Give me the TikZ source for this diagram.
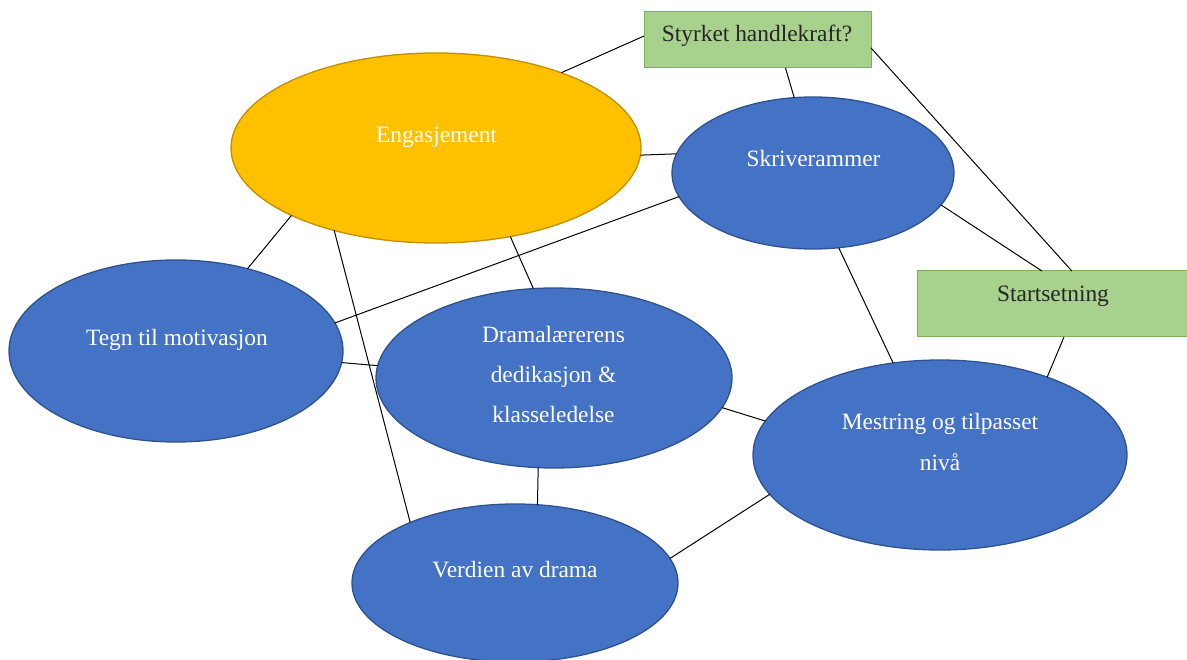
\documentclass[tikz,border=0pt]{standalone}
\usepackage{fontspec}
\setmainfont{Liberation Serif}
\usetikzlibrary{shapes.geometric}
\definecolor{bfill}{HTML}{4472C4}
\definecolor{bline}{HTML}{2F528F}
\definecolor{ofill}{HTML}{FFC000}
\definecolor{oline}{HTML}{BF9000}
\definecolor{gfill}{HTML}{A9D18E}
\definecolor{gline}{HTML}{7FAF5F}
\begin{document}
\begin{tikzpicture}[x=1pt,y=-1pt,
  ell/.style={ellipse, draw=bline, fill=bfill, line width=1.3pt, inner sep=0pt, outer sep=0pt},
  oell/.style={ell, draw=oline, fill=ofill},
  gbox/.style={rectangle, draw=gline, fill=gfill, line width=1pt, inner sep=0pt, outer sep=0pt},
  wtxt/.style={text=white, font=\fontsize{23.4}{40.5}\selectfont, align=center, anchor=base, inner sep=0pt},
  btxt/.style={wtxt, text=black!85},
  conn/.style={draw=black, line width=1pt}]
\useasboundingbox (0,0) rectangle (1187,660);
% shapes
\node[oell, minimum width=410pt, minimum height=190pt] (eng) at (436,148) {};
\node[ell, minimum width=282pt, minimum height=152pt] (skr) at (813,173) {};
\node[ell, minimum width=334pt, minimum height=182pt] (tegn) at (176,351) {};
\node[ell, minimum width=356pt, minimum height=180pt] (dram) at (554,378) {};
\node[ell, minimum width=374pt, minimum height=190pt] (mest) at (940,455) {};
\node[ell, minimum width=326pt, minimum height=158pt] (verd) at (515,583) {};
\node[gbox, minimum width=227pt, minimum height=56pt] (sty) at (757.5,40) {};
\node[gbox, minimum width=270pt, minimum height=66pt] (start) at (1052,304) {};
% texts (multi-line nodes: base = baseline of last line)
\node[wtxt] (eng-t) at (436.5,143) {Engasjement};
\node[wtxt] (skr-t) at (813.5,167) {Skriverammer};
\node[wtxt] (tegn-t) at (177,346) {Tegn til motivasjon};
\node[wtxt] (dram-t) at (553.5,423) {Dramalærerens\\dedikasjon \&\\klasseledelse};
\node[wtxt] (mest-t) at (940,470) {Mestring og tilpasset\\nivå};
\node[wtxt] (verd-t) at (515,577) {Verdien av drama};
\node[btxt] (sty-t) at (757,42) {Styrket handlekraft?};
\node[btxt] (start-t) at (1053,302) {Startsetning};
% connectors
\draw[conn] (eng.31.3) -- (sty.178);
\draw[conn] (sty.315.5) -- (skr.104);
\draw[conn] (sty.356.5) -- (start.59);
\draw[conn] (skr.346.6) -- (start.107.4);
\draw[conn] (eng.358.9) -- (skr.172.9);
\draw[conn] (skr.190.5) -- (tegn.10.5);
\draw[conn] (skr.289.1) -- (mest.117.3);
\draw[conn] (start.290.5) -- (mest.36);
\draw[conn] (eng.205.6) -- (tegn.49.8);
\draw[conn] (eng.219) -- (verd.150.5);
\draw[conn] (eng.310.2) -- (dram.103.4);
\draw[conn] (tegn.356.2) -- (dram.176.4);
\draw[conn] (dram.260.1) -- (verd.74.9);
\draw[conn] (dram.350.6) -- (mest.169.1);
\draw[conn] (mest.193.1) -- (verd.9.5);
\end{tikzpicture}
\end{document}
